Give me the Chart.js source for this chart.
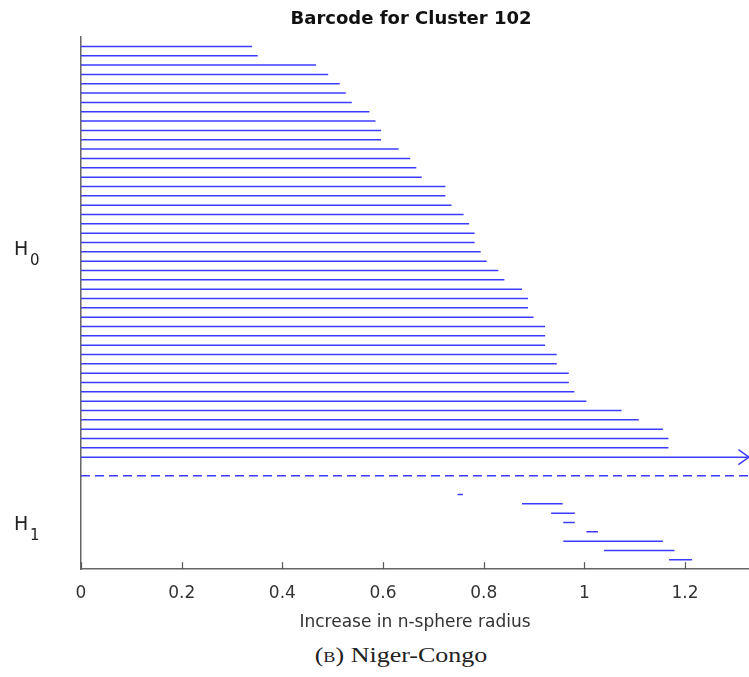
<!DOCTYPE html>
<html>
<head>
<meta charset="utf-8">
<script src="https://cdn.jsdelivr.net/npm/chart.js@4.4.1/dist/chart.umd.min.js"></script>
<style>
  body { margin: 0; background: #fff; }
  #wrap { position: relative; width: 749px; height: 677px; }
  #caption {
    position: absolute; left: 201px; width: 400px; top: 644px;
    text-align: center; font-family: "Liberation Serif", "DejaVu Serif", serif;
    font-size: 20px; line-height: 22px; color: #222;
    transform: scaleX(1.3); transform-origin: 50% 50%;
  }
</style>
</head>
<body>
<div id="wrap">
  <canvas id="barcodeChart" width="749" height="640"></canvas>
  <div id="caption">(<span style="font-variant: small-caps;">b</span>) Niger-Congo</div>
</div>
<script>
// H0 deaths (all births at 0), top row first; last one never dies
const h0Deaths = [0.340, 0.351, 0.467, 0.491, 0.514, 0.526, 0.538, 0.573, 0.585, 0.596,
  0.596, 0.631, 0.654, 0.666, 0.677, 0.724, 0.724, 0.736, 0.760, 0.771,
  0.782, 0.782, 0.794, 0.806, 0.829, 0.841, 0.876, 0.888, 0.888, 0.899,
  0.922, 0.922, 0.922, 0.945, 0.945, 0.969, 0.969, 0.980, 1.004, 1.074,
  1.108, 1.156, 1.167, 1.167, Infinity];
// H1 intervals
const h1Births = [0.748, 0.876, 0.934, 0.958, 1.004, 0.958, 1.039, 1.168];
const h1Deaths = [0.759, 0.957, 0.981, 0.981, 1.027, 1.156, 1.179, 1.214];
const xTicks = [0, 0.2, 0.4, 0.6, 0.8, 1, 1.2];
const xMax = 1.327;

const barColor = 'rgb(60,60,255)';
const sansFont = '"DejaVu Sans", "Liberation Sans", Arial, sans-serif';
const datasets = [];

function bar(points, dash) {
  return {
    data: points,
    showLine: true,
    borderColor: barColor,
    backgroundColor: barColor,
    borderWidth: 1.5,
    borderDash: dash || [],
    pointRadius: 0,
    fill: false
  };
}

h0Deaths.forEach((d, i) => {
  datasets.push(bar([{ x: 0, y: i }, { x: Math.min(d, xMax), y: i }]));
});

const sepRow = h0Deaths.length + 1;
datasets.push(bar([{ x: 0, y: sepRow }, { x: xMax, y: sepRow }], [9, 5]));

h1Births.forEach((b, i) => {
  const row = sepRow + 2 + i;
  datasets.push(bar([{ x: b, y: row }, { x: h1Deaths[i], y: row }]));
});

// arrow head on the infinite bar
const infRow = h0Deaths.length - 1;
datasets.push(bar([{ x: xMax - 0.021, y: infRow - 0.8 }, { x: xMax, y: infRow }, { x: xMax - 0.021, y: infRow + 0.8 }]));

const lastRow = sepRow + 2 + h1Births.length - 1;

const axisExtras = {
  id: 'axisExtras',
  afterDraw(chart) {
    const ctx = chart.ctx;
    const xs = chart.scales.x;
    const ys = chart.scales.y;
    ctx.save();
    // inward ticks
    ctx.strokeStyle = '#555';
    ctx.lineWidth = 1.2;
    xTicks.forEach(t => {
      const px = Math.round(xs.getPixelForValue(t)) + 0.5;
      ctx.beginPath();
      ctx.moveTo(px, ys.bottom);
      ctx.lineTo(px, ys.bottom - 7);
      ctx.stroke();
    });
    // H0 / H1 labels
    ctx.fillStyle = '#222';
    ctx.textBaseline = 'middle';
    const lab = (sub, mid) => {
      const py = ys.getPixelForValue(mid) - 2;
      ctx.font = '19px ' + sansFont;
      ctx.fillText('H', 14, py);
      ctx.font = '15px ' + sansFont;
      ctx.fillText(sub, 30, py + 11);
    };
    lab('0', (h0Deaths.length - 1) / 2);
    lab('1', (sepRow + 2 + lastRow) / 2);
    ctx.restore();
  }
};

new Chart(document.getElementById('barcodeChart'), {
  type: 'scatter',
  data: { datasets: datasets },
  options: {
    responsive: false,
    animation: false,
    layout: {
      padding: { left: 73, right: 0, top: 0, bottom: 7 }
    },
    plugins: {
      legend: { display: false },
      tooltip: { enabled: false },
      colors: { enabled: false },
      title: {
        display: true,
        text: 'Barcode for Cluster 102',
        color: '#111',
        font: { family: sansFont, size: 18, weight: 'bold' },
        padding: { top: 9, bottom: 6.5 }
      }
    },
    scales: {
      x: {
        type: 'linear',
        min: 0,
        max: xMax,
        afterBuildTicks: axis => { axis.ticks = xTicks.map(v => ({ value: v })); },
        border: { color: '#666', width: 1.5 },
        grid: { display: false },
        ticks: {
          color: '#333',
          padding: 6,
          font: { family: sansFont, size: 17 },
          callback: v => String(v)
        },
        title: {
          display: true,
          text: 'Increase in n-sphere radius',
          color: '#333',
          font: { family: sansFont, size: 17 },
          padding: { top: 3, bottom: 0 }
        }
      },
      y: {
        type: 'linear',
        reverse: true,
        min: -1,
        max: lastRow + 1,
        border: { color: '#666', width: 1.5 },
        grid: { display: false },
        ticks: { display: false }
      }
    }
  },
  plugins: [axisExtras]
});
</script>
</body>
</html>
